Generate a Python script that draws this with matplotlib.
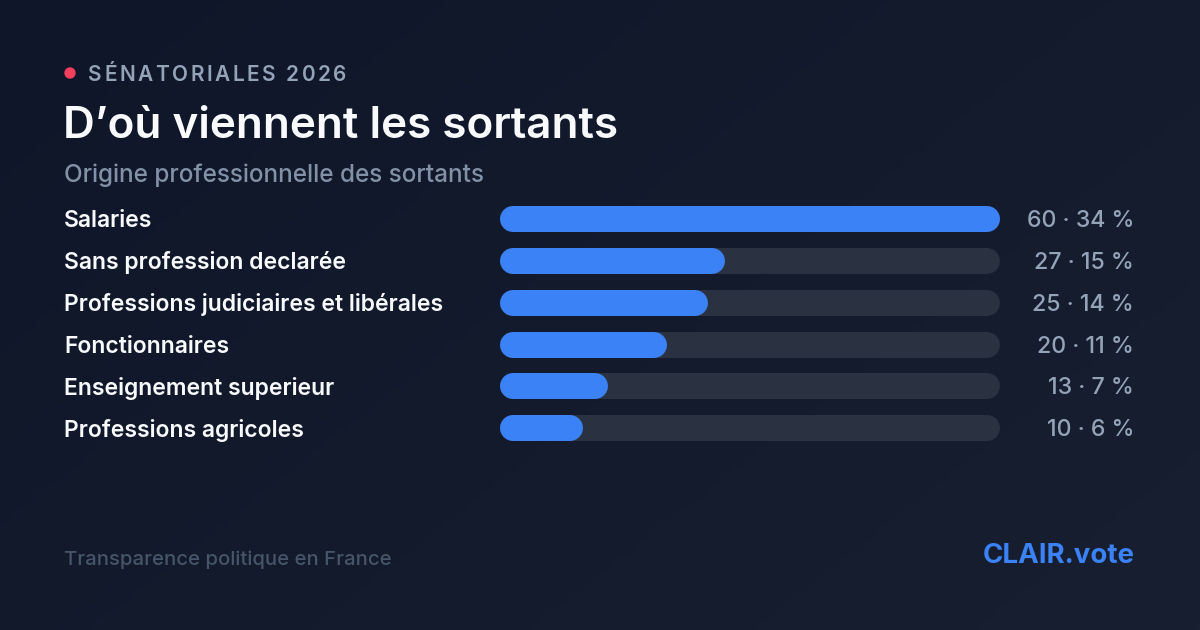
import matplotlib
matplotlib.use("Agg")
import matplotlib.pyplot as plt
import numpy as np

plt.rcParams['font.family'] = ['Inter', 'DejaVu Sans']

categories = ["Salaries", "Sans profession declarée", "Professions judiciaires et libérales",
              "Fonctionnaires", "Enseignement superieur", "Professions agricoles"]
counts = [60, 27, 25, 20, 13, 10]
shares = [34, 15, 14, 11, 7, 6]

tag = "SÉNATORIALES 2026"
title = "D\u2019où viennent les sortants"
subtitle = "Origine professionnelle des sortants"
footer_left = "Transparence politique en France"
footer_right = "CLAIR.vote"

W, H = 1200, 630
fig = plt.figure(figsize=(W / 100, H / 100), dpi=100)

# background, pixel coords
bg = fig.add_axes([0, 0, 1, 1])
bg.set_xlim(0, W)
bg.set_ylim(H, 0)
bg.axis('off')
gx, gy = np.meshgrid(np.linspace(0, 1, 200), np.linspace(0, 1, 120))
t = (gx * 0.6 + gy * 0.4)
c0 = np.array([0x0f, 0x16, 0x29]) / 255
c1 = np.array([0x17, 0x1f, 0x30]) / 255
img = c0[None, None, :] * (1 - t[..., None]) + c1[None, None, :] * t[..., None]
bg.imshow(img, extent=[0, W, H, 0], aspect='auto', zorder=0)

# tag with dot + letter spacing
bg.add_patch(plt.Circle((70, 73), 5, color='#f43f5e', zorder=2))
renderer = fig.canvas.get_renderer()
x = 88
for ch in tag:
    tx = bg.text(x, 75, ch, color='#94a3b8', fontsize=15, fontweight='semibold',
                 va='center', ha='left', zorder=3)
    bb = tx.get_window_extent(renderer=renderer)
    x += bb.width + 2.6

bg.text(63, 126, title, color='#f8fafc', fontsize=31.7, fontweight='semibold',
        va='center', ha='left', zorder=3)
bg.text(64, 175, subtitle, color='#8391a7', fontsize=17.5, fontweight='medium',
        va='center', ha='left', zorder=3)

row_y = [219, 261, 303, 345, 386, 428]
for i, cat in enumerate(categories):
    bg.text(64, row_y[i] + 2, cat, color='#f8fafc', fontsize=16.5, fontweight='semibold',
            va='center', ha='left', zorder=3)
    bg.text(1134, row_y[i] + 2, f"{counts[i]} \u00b7 {shares[i]} %", color='#94a3b8',
            fontsize=16.7, fontweight='medium', va='center', ha='right', zorder=3)

bg.text(64, 560, footer_left, color='#475569', fontsize=14.6, fontweight='medium',
        va='center', ha='left', zorder=3)
bg.text(1135, 556, footer_right, color='#3b82f6', fontsize=19.9, fontweight='bold',
        va='center', ha='right', zorder=3)

# bars axes: spans pixel x 500..1000, y 198..449
ax = fig.add_axes([500 / W, 1 - 449 / H, 500 / W, (449 - 198) / H])
ax.set_xlim(0, max(counts))
ax.set_ylim(449, 198)
ax.axis('off')
ax.patch.set_alpha(0)
lw = 26 * 72 / 100
cap = 13 / 500 * max(counts)
for i, v in enumerate(counts):
    ax.plot([cap, max(counts) - cap], [row_y[i], row_y[i]], color='#2a3141', lw=lw,
            solid_capstyle='round', zorder=1)
    ax.plot([cap, v - cap], [row_y[i], row_y[i]], color='#3b82f6', lw=lw,
            solid_capstyle='round', zorder=2)

fig.savefig("out.png", dpi=100, facecolor=fig.get_facecolor())
